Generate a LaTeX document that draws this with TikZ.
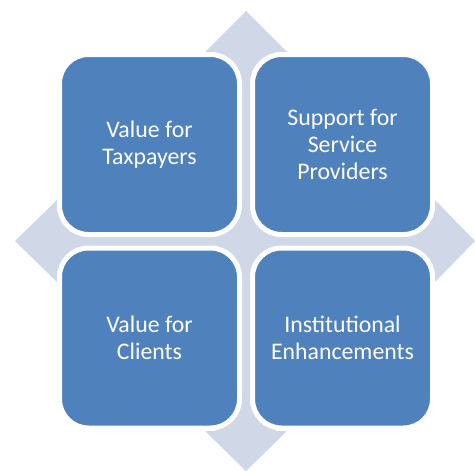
\documentclass[tikz,border=0pt]{standalone}
\usepackage{fontspec}
\setmainfont{Carlito}
\definecolor{tileblue}{HTML}{4F81BD}
\definecolor{arrowgrey}{HTML}{D0D8E8}
\begin{document}
\begin{tikzpicture}[x=1pt,y=-1pt,
  tile/.style={draw=white, line width=5pt, fill=tileblue, rounded corners=29pt,
    minimum width=180pt, minimum height=180pt, inner sep=0pt, text=white,
    align=center, font=\fontsize{23.8}{27}\selectfont},
  crossarrow/.style={fill=arrowgrey, draw=none}]
\useasboundingbox (0,0) rectangle (475,471);
% four-way arrow behind the tiles
\fill[crossarrow]
  (246,11) -- (287,52) -- (276,52) -- (276,211) -- (435,211) -- (435,200)
  -- (475,241) -- (435,282) -- (435,271) -- (276,271) -- (276,431) -- (287,431)
  -- (246,471) -- (205,431) -- (216,431) -- (216,271) -- (57,271) -- (57,282)
  -- (15,241) -- (57,200) -- (57,211) -- (216,211) -- (216,52) -- (205,52) -- cycle;
% tiles
\node[tile] (tl) at (149.5,144.5) {Value for\\Taxpayers};
\node[tile] (tr) at (342.5,144.5) {Support for\\Service\\Providers};
\node[tile] (bl) at (149.5,338) {Value for\\Clients};
\node[tile] (br) at (342.5,338) {Institutional\\Enhancements};
\end{tikzpicture}
\end{document}
